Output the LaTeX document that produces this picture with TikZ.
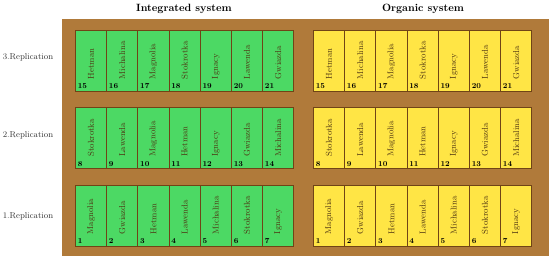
\documentclass[tikz,border=0pt]{standalone}
\usepackage{tikz}

\definecolor{soil}{RGB}{176,122,58}
\definecolor{plotline}{RGB}{112,68,22}
\definecolor{intgreen}{RGB}{76,217,100}
\definecolor{orgyellow}{RGB}{255,229,69}
\definecolor{namecol}{RGB}{78,52,18}

\begin{document}
\begin{tikzpicture}[
  x=0.35mm,y=-0.35mm,
  plot/.style={draw=plotline,line width=0.8pt,anchor=north west,inner sep=0pt,
    minimum width=10.92mm,minimum height=21.35mm},
  cellname/.style={rotate=90,anchor=west,inner sep=0pt,text=namecol,
    font=\fontsize{8.5}{10}\selectfont},
  cellnum/.style={anchor=south west,inner sep=0pt,
    font=\fontsize{7.5}{9}\selectfont\bfseries},
  systitle/.style={font=\fontsize{10.5}{12}\selectfont\bfseries},
  replabel/.style={text=black!80,font=\fontsize{8.5}{10}\selectfont}
]
  \useasboundingbox (0,0) rectangle (550,261);
  \fill[soil] (62,18.5) rectangle (549,255.5);

  \node[systitle] (inttitle) at (184,9) {Integrated system};
  \node[systitle] (orgtitle) at (423,9) {Organic system};

  \node[replabel] (rep3) at (28,57) {3.Replication};
  \node[replabel] (rep2) at (28,135) {2.Replication};
  \node[replabel] (rep1) at (28,216) {1.Replication};

  % plots: top edge / first number / cultivars from left to right
  \foreach \top/\first/\names in {
      184.5/1/{Magnolia,Gwiazda,Hetman,Lawenda,Michalina,Stokrotka,Ignacy},
      107/8/{Stokrotka,Lawenda,Magnolia,Hetman,Ignacy,Gwiazda,Michalina},
      29.5/15/{Hetman,Michalina,Magnolia,Stokrotka,Ignacy,Lawenda,Gwiazda}}
    \foreach \sys/\left/\col in {int/75/intgreen,org/313/orgyellow}
      \foreach \name [count=\i from 0] in \names {
        \pgfmathtruncatemacro\num{\first+\i}
        \node[plot,fill=\col] (\sys-\num) at (\left+\i*31.2,\top) {};
        \node[cellname] (\sys-\num-name) at ([yshift=4.2mm]\sys-\num.south) {\name};
        \node[cellnum] (\sys-\num-num) at ([shift={(0.9mm,0.8mm)}]\sys-\num.south west) {\num};
      }
\end{tikzpicture}
\end{document}
